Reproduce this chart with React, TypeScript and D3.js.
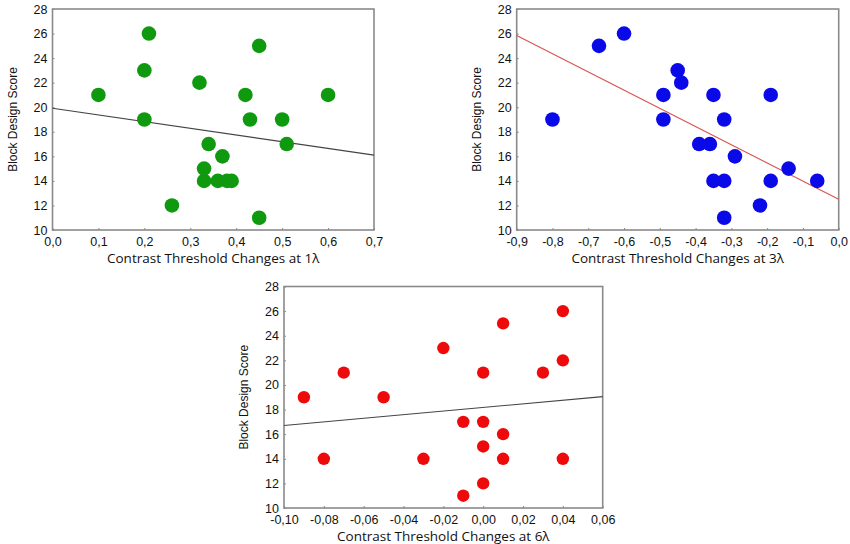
import { useEffect, useRef } from 'react'
import * as d3 from 'd3'

// Panel 1: contrast threshold change at 1λ vs block design score
const x1 = [0.1, 0.2, 0.21, 0.2, 0.26, 0.32, 0.33, 0.33, 0.34, 0.36, 0.37, 0.38, 0.39, 0.42, 0.43, 0.45, 0.45, 0.5, 0.51, 0.6]
const y1 = [21, 23, 26, 19, 12, 22, 15, 14, 17, 14, 16, 14, 14, 21, 19, 25, 11, 19, 17, 21]
const fit1 = [19.92, 16.1] // fitted y at domain ends

// Panel 2: 3λ
const x2 = [-0.8, -0.67, -0.6, -0.49, -0.49, -0.45, -0.44, -0.39, -0.36, -0.35, -0.35, -0.32, -0.32, -0.32, -0.29, -0.22, -0.19, -0.19, -0.14, -0.06]
const y2 = [19, 25, 26, 21, 19, 23, 22, 17, 17, 21, 14, 19, 14, 11, 16, 12, 21, 14, 15, 14]
const fit2 = [25.85, 12.5]

// Panel 3: 6λ
const x3 = [-0.09, -0.08, -0.07, -0.05, -0.03, -0.02, -0.01, -0.01, 0, 0, 0, 0, 0.01, 0.01, 0.01, 0.03, 0.04, 0.04, 0.04]
const y3 = [19, 14, 21, 19, 14, 23, 17, 11, 21, 17, 15, 12, 25, 16, 14, 21, 26, 22, 14]
const fit3 = [16.7, 19.05]

const yTicks = [10, 12, 14, 16, 18, 20, 22, 24, 26, 28]
const xTicks1 = [0, 0.1, 0.2, 0.3, 0.4, 0.5, 0.6, 0.7]
const xTicks2 = [-0.9, -0.8, -0.7, -0.6, -0.5, -0.4, -0.3, -0.2, -0.1, 0]
const xTicks3 = [-0.1, -0.08, -0.06, -0.04, -0.02, 0, 0.02, 0.04, 0.06]

const locale = d3.formatLocale({ decimal: ',', thousands: '.', grouping: [3], currency: ['', ''], minus: '-' })

const panels = [
  { xs: x1, ys: y1, fit: fit1, ticks: xTicks1, fmt: locale.format('.1f'), title: 'Contrast Threshold Changes at 1λ',
    rect: [52.5, 9, 374, 230], dot: '#0f990f', r: 7.3, line: '#444', lw: 1.1 },
  { xs: x2, ys: y2, fit: fit2, ticks: xTicks2, fmt: locale.format('.1f'), title: 'Contrast Threshold Changes at 3λ',
    rect: [516.7, 9, 838.7, 230], dot: '#0a0ae8', r: 7.3, line: '#d9524f', lw: 1.1 },
  { xs: x3, ys: y3, fit: fit3, ticks: xTicks3, fmt: locale.format('.2f'), title: 'Contrast Threshold Changes at 6λ',
    rect: [284, 286.5, 602.7, 508], dot: '#ee0a0a', r: 6.2, line: '#444', lw: 1.1 },
]

export default function App() {
  const svgRef = useRef<SVGSVGElement>(null)

  useEffect(() => {
    if (!svgRef.current) return
    const svg = d3.select(svgRef.current)
    svg.selectAll('*').remove()

    panels.forEach(p => {
      const [left, top, right, bottom] = p.rect
      const x = d3.scaleLinear().domain(d3.extent(p.ticks) as [number, number]).range([left, right])
      const y = d3.scaleLinear().domain([10, 28]).range([bottom, top])
      const g = svg.append('g')

      // x axis
      const xa = g.append('g')
        .attr('transform', `translate(0,${bottom})`)
        .call(d3.axisBottom(x).tickValues(p.ticks).tickFormat(d => p.fmt(d as number)).tickSize(-2).tickPadding(7))
      xa.select('.domain').remove()

      // y axis
      const ya = g.append('g')
        .attr('transform', `translate(${left},0)`)
        .call(d3.axisLeft(y).tickValues(yTicks).tickFormat(d => String(d)).tickSize(-2).tickPadding(5))
      ya.select('.domain').remove()

      g.selectAll('.tick line').attr('stroke', '#888')
      g.selectAll('.tick text')
        .attr('fill', '#111')
        .attr('font-family', 'Liberation Sans, Arial, sans-serif')
        .attr('font-size', 12.5)

      // frame
      g.append('rect')
        .attr('x', left).attr('y', top)
        .attr('width', right - left).attr('height', bottom - top)
        .attr('fill', 'none')
        .attr('stroke', '#8a8a8a')
        .attr('stroke-width', 1.6)

      // regression line
      const dom = x.domain()
      g.append('line')
        .attr('x1', x(dom[0])).attr('y1', y(p.fit[0]))
        .attr('x2', x(dom[1])).attr('y2', y(p.fit[1]))
        .attr('stroke', p.line)
        .attr('stroke-width', p.lw)

      // points
      g.selectAll('circle.pt')
        .data(p.xs.map((v, i) => [v, p.ys[i]]))
        .join('circle')
        .attr('class', 'pt')
        .attr('cx', d => x(d[0]))
        .attr('cy', d => y(d[1]))
        .attr('r', p.r)
        .attr('fill', p.dot)

      // axis titles
      g.append('text')
        .attr('x', (left + right) / 2)
        .attr('y', bottom + 33)
        .attr('text-anchor', 'middle')
        .attr('font-family', 'Open Sans, sans-serif')
        .attr('font-size', 13.5)
        .attr('fill', '#111')
        .text(p.title)

      g.append('text')
        .attr('transform', `translate(${left - 36},${(top + bottom) / 2}) rotate(-90)`)
        .attr('text-anchor', 'middle')
        .attr('font-family', 'Liberation Sans, Arial, sans-serif')
        .attr('font-size', 12)
        .attr('fill', '#111')
        .text('Block Design Score')
    })
  }, [])

  return (
    <svg ref={svgRef} width={850} height={544}
      style={{ position: 'absolute', left: 0, top: 0, background: '#fff' }} />
  )
}
